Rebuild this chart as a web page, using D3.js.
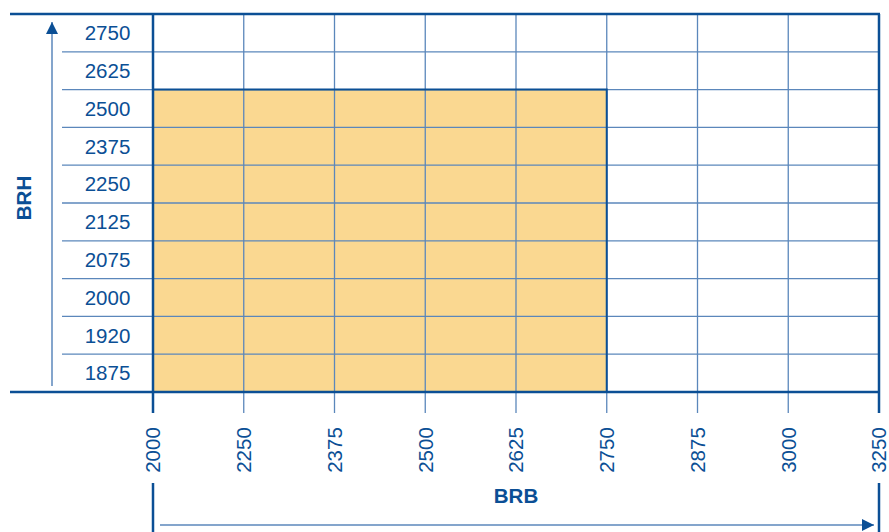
<!DOCTYPE html>
<html>
<head>
<meta charset="utf-8">
<script src="https://cdn.jsdelivr.net/npm/d3@7"></script>
<style>
  body { margin: 0; background: #fff; }
  text { font-family: "Liberation Sans", Arial, sans-serif; }
</style>
</head>
<body>
<div id="chart"></div>
<script>
// BRB (width) ticks and BRH (height) rows
const brbTicks = [2000, 2250, 2375, 2500, 2625, 2750, 2875, 3000, 3250];
const brhRows = [2750, 2625, 2500, 2375, 2250, 2125, 2075, 2000, 1920, 1875];
// available range (shaded)
const brbRange = [2000, 2750];
const brhMax = 2500;

const width = 889, height = 532;
const blue = "#0b4f95", lightBlue = "#5b87bb", fill = "#fad891";

const svg = d3.select("#chart").append("svg")
  .attr("width", width).attr("height", height);

const x = d3.scalePoint().domain(brbTicks).range([153, 879]);
const y = d3.scaleBand().domain(brhRows).range([14, 392]);

// shaded area
const shaded = brhRows.filter(d => d <= brhMax);
svg.append("rect")
  .attr("x", x(brbRange[0]))
  .attr("y", y(shaded[0]))
  .attr("width", x(brbRange[1]) - x(brbRange[0]))
  .attr("height", y(shaded[shaded.length - 1]) + y.bandwidth() - y(shaded[0]))
  .attr("fill", fill);

// horizontal row lines
svg.append("g").selectAll("line")
  .data(brhRows.slice(1))
  .join("line")
  .attr("x1", 62).attr("x2", 879)
  .attr("y1", d => y(d)).attr("y2", d => y(d))
  .attr("stroke", lightBlue).attr("stroke-width", 1.3);

// vertical grid lines
svg.append("g").selectAll("line")
  .data(brbTicks.slice(1, -1))
  .join("line")
  .attr("x1", d => x(d)).attr("x2", d => x(d))
  .attr("y1", 14).attr("y2", 413)
  .attr("stroke", lightBlue).attr("stroke-width", 1.3);

// shaded area outline (top and right)
svg.append("path")
  .attr("d", `M${x(brbRange[0])},${y(shaded[0])}H${x(brbRange[1])}V392`)
  .attr("fill", "none").attr("stroke", blue).attr("stroke-width", 2);

// frame
svg.append("line").attr("x1", 10).attr("x2", 880).attr("y1", 14).attr("y2", 14)
  .attr("stroke", blue).attr("stroke-width", 2.5);
svg.append("line").attr("x1", 10).attr("x2", 880).attr("y1", 392).attr("y2", 392)
  .attr("stroke", blue).attr("stroke-width", 2.5);
svg.append("line").attr("x1", x(2000)).attr("x2", x(2000)).attr("y1", 14).attr("y2", 413)
  .attr("stroke", blue).attr("stroke-width", 2.5);
svg.append("line").attr("x1", x(3250)).attr("x2", x(3250)).attr("y1", 14).attr("y2", 413)
  .attr("stroke", blue).attr("stroke-width", 2.5);

// end stubs below labels
[2000, 3250].forEach(v => {
  svg.append("line").attr("x1", x(v)).attr("x2", x(v)).attr("y1", 483).attr("y2", 532)
    .attr("stroke", blue).attr("stroke-width", 2.5);
});

// row labels
svg.append("g").selectAll("text")
  .data(brhRows)
  .join("text")
  .attr("x", 107.5)
  .attr("y", d => y(d) + y.bandwidth() / 2)
  .attr("dy", "0.36em")
  .attr("text-anchor", "middle")
  .attr("font-size", 20.5)
  .attr("fill", blue)
  .text(d => d);

// column tick labels
svg.append("g").selectAll("text")
  .data(brbTicks)
  .join("text")
  .attr("transform", d => `translate(${x(d)},450) rotate(-90)`)
  .attr("dy", "0.36em")
  .attr("text-anchor", "middle")
  .attr("font-size", 20.5)
  .attr("fill", blue)
  .text(d => d);

// arrows
const defs = svg.append("defs");
defs.append("marker").attr("id", "arrow")
  .attr("viewBox", "0 0 10 10").attr("refX", 10).attr("refY", 5)
  .attr("markerWidth", 15).attr("markerHeight", 12)
  .attr("markerUnits", "userSpaceOnUse")
  .attr("orient", "auto")
  .append("path").attr("d", "M0,0L10,5L0,10Z").attr("fill", blue);

svg.append("line").attr("x1", 52).attr("x2", 52).attr("y1", 386).attr("y2", 22)
  .attr("stroke", lightBlue).attr("stroke-width", 1.5).attr("marker-end", "url(#arrow)");
svg.append("line").attr("x1", 160).attr("x2", 874).attr("y1", 525).attr("y2", 525)
  .attr("stroke", lightBlue).attr("stroke-width", 1.5).attr("marker-end", "url(#arrow)");

// axis titles
svg.append("text").attr("x", 516).attr("y", 496)
  .attr("dy", "0.36em").attr("text-anchor", "middle")
  .attr("font-size", 20.5).attr("font-weight", "bold").attr("fill", blue)
  .text("BRB");
svg.append("text").attr("transform", "translate(24,198) rotate(-90)")
  .attr("dy", "0.36em").attr("text-anchor", "middle")
  .attr("font-size", 20.5).attr("font-weight", "bold").attr("fill", blue)
  .text("BRH");
</script>
</body>
</html>
